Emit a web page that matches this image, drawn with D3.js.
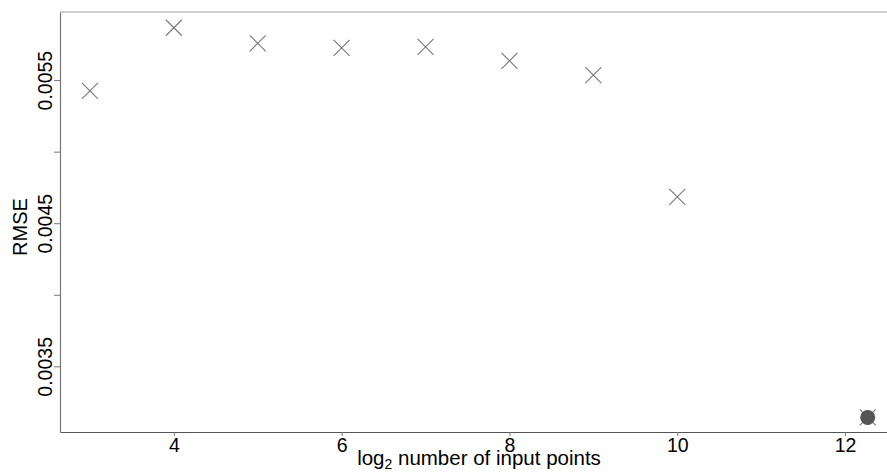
<!DOCTYPE html>
<html>
<head>
<meta charset="utf-8">
<script src="https://cdn.jsdelivr.net/npm/d3@7"></script>
<style>
  html, body { margin: 0; padding: 0; background: #fff; }
  svg { display: block; font-family: "Liberation Sans", Arial, sans-serif; }
</style>
</head>
<body>
<svg id="chart" width="887" height="472"></svg>
<script>
// RMSE against log2 of the number of input points
const logPoints = [3, 4, 5, 6, 7, 8, 9, 10, 12.27];
const rmse = [0.005425, 0.005866, 0.005757, 0.005726, 0.005733, 0.005635, 0.005535, 0.004684, 0.003143];
// the last run is highlighted with a filled dot
const highlightIndex = [8];

const xTicks = [4, 6, 8, 10, 12];
const yTicks = [0.0035, 0.004, 0.0045, 0.005, 0.0055];
const yTickLabels = ["0.0035", "", "0.0045", "", "0.0055"];

const W = 887, H = 472;
const m = { left: 60, right: 0, top: 12, bottom: 40 };
const plotW = W - m.left - m.right, plotH = H - m.top - m.bottom;

const svg = d3.select("#chart");
const g = svg.append("g").attr("transform", `translate(${m.left},${m.top})`);

const x = d3.scaleLinear().domain([2.643, 12.5]).range([0, plotW]);
const y = d3.scaleLinear().domain([0.003041, 0.005976]).range([plotH, 0]);

// frame: top line
g.append("line").attr("x1", 0).attr("x2", plotW).attr("y1", 0).attr("y2", 0)
  .attr("stroke", "#a0a0a0").attr("stroke-width", 1.2);

// y axis
const yAxis = g.append("g")
  .call(d3.axisLeft(y).tickValues(yTicks).tickSize(6).tickSizeOuter(0).tickPadding(8)
    .tickFormat((d, i) => yTickLabels[i]));
yAxis.select(".domain").attr("stroke", "#777").attr("stroke-width", 1.2);
yAxis.selectAll(".tick line").attr("stroke", "#777");
yAxis.selectAll(".tick text")
  .attr("fill", "#000").attr("font-size", 19.5)
  .attr("transform", "rotate(-90)")
  .attr("x", 0).attr("y", -14)
  .attr("text-anchor", "middle");

// x axis
const xAxis = g.append("g").attr("transform", `translate(0,${plotH})`)
  .call(d3.axisBottom(x).tickValues(xTicks).tickSize(4).tickSizeOuter(0).tickPadding(2)
    .tickFormat(d3.format("d")));
xAxis.select(".domain").attr("stroke", "#555").attr("stroke-width", 1.2);
xAxis.selectAll(".tick line").attr("stroke", "#777");
xAxis.selectAll(".tick text").attr("fill", "#000").attr("font-size", 19.5);

// axis titles
const xt = svg.append("text")
  .attr("x", 479).attr("y", 465)
  .attr("text-anchor", "middle").attr("font-size", 20.5).attr("fill", "#000");
xt.append("tspan").text("log");
xt.append("tspan").attr("font-size", 14).attr("dy", 4).text("2");
xt.append("tspan").attr("dy", -4).text(" number of input points");

svg.append("text")
  .attr("transform", `translate(27,${m.top + plotH / 2 + 5}) rotate(-90)`)
  .attr("text-anchor", "middle").attr("font-size", 20).attr("fill", "#000")
  .text("RMSE");

// cross markers
const s = 8;
const pts = logPoints.map((v, i) => ({ px: x(v), py: y(rmse[i]), i }));
const marks = g.append("g");
marks.selectAll("path.cross").data(pts).join("path")
  .attr("class", "cross")
  .attr("d", d => `M${d.px - s},${d.py - s}L${d.px + s},${d.py + s}M${d.px - s},${d.py + s}L${d.px + s},${d.py - s}`)
  .attr("stroke", "#777").attr("stroke-width", 1.1).attr("fill", "none");

marks.selectAll("circle.hi").data(pts.filter(d => highlightIndex.includes(d.i))).join("circle")
  .attr("class", "hi")
  .attr("cx", d => d.px).attr("cy", d => d.py).attr("r", 7.5)
  .attr("fill", "#555");
</script>
</body>
</html>
